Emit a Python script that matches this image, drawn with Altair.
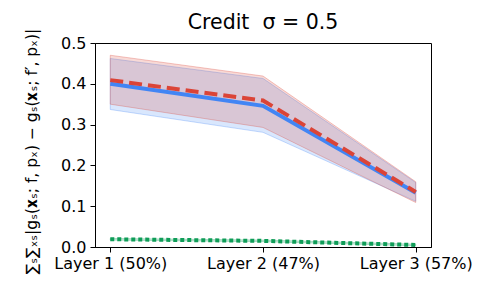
import altair as alt
import pandas as pd

layers = ["Layer 1 (50%)", "Layer 2 (47%)", "Layer 3 (57%)"]
blue_mean = [0.400, 0.346, 0.133]
blue_lo = [0.337, 0.281, 0.112]
blue_hi = [0.462, 0.413, 0.158]
red_mean = [0.409, 0.359, 0.135]
red_lo = [0.350, 0.293, 0.109]
red_hi = [0.470, 0.419, 0.160]
green_mean = [0.019, 0.015, 0.005]
green_lo = [0.017, 0.013, 0.003]
green_hi = [0.021, 0.017, 0.007]

BLUE = "#4285F4"
RED = "#DB4437"
GREEN = "#0F9D58"

def frame(mean, lo, hi):
    return pd.DataFrame({"layer": layers, "mean": mean, "lo": lo, "hi": hi})

xenc = alt.X("layer:N", sort=layers, scale=alt.Scale(type="point", padding=0.1),
             axis=alt.Axis(title=None, labelAngle=0, labelFontSize=16, labelColor="black",
                           labelFont="DejaVu Sans", tickSize=5, tickColor="black",
                           domainColor="black", labelPadding=3))
yenc = alt.Y("mean:Q", scale=alt.Scale(domain=[0, 0.5], nice=False),
             axis=alt.Axis(values=[0, 0.1, 0.2, 0.3, 0.4, 0.5], format=".1f",
                           title="∑ₛ∑ₓₛ|gₛ(𝐱ₛ; f, pₓ) − gₛ(𝐱ₛ; f′, pₓ)|",
                           titleFontSize=15.5, titleFont="DejaVu Sans", titleFontWeight="normal",
                           titleColor="black", titleX=-64, titleY=108, titleAngle=-90,
                           titleAlign="center", titleBaseline="middle",
                           labelFontSize=16, labelColor="black", labelFont="DejaVu Sans",
                           tickSize=5, tickColor="black", domainColor="black",
                           labelPadding=4, grid=False))

def band(df, color, op=0.2):
    return alt.Chart(df).mark_area(color=color, fillOpacity=op, stroke=color,
                                   strokeOpacity=0.3, strokeWidth=1).encode(
        x=xenc, y=alt.Y("lo:Q", scale=alt.Scale(domain=[0, 0.5], nice=False)), y2="hi:Q")

def line(df, color, dash=None, width=4):
    kw = dict(color=color, strokeWidth=width)
    if dash:
        kw["strokeDash"] = dash
    return alt.Chart(df).mark_line(**kw).encode(x=xenc, y=yenc)

db = frame(blue_mean, blue_lo, blue_hi)
dr = frame(red_mean, red_lo, red_hi)
dg = frame(green_mean, green_lo, green_hi)

chart = alt.layer(
    band(db, BLUE), band(dr, RED), band(dg, GREEN),
    line(db, BLUE), line(dr, RED, [13, 6]), line(dg, GREEN, [4, 3], 4),
).properties(
    width=336, height=204,
    autosize=alt.AutoSizeParams(type="none"),
    padding={"left": 87, "top": 35, "right": 49, "bottom": 38},
    title=alt.TitleParams("Credit\u00a0\u00a0σ = 0.5", fontSize=20.5, font="DejaVu Sans",
                          fontWeight="normal", color="black", anchor="middle", offset=4,
                          dy=9),
).configure_view(stroke="black", strokeWidth=1)

chart.save("out.html", embed_options={"renderer": "svg", "actions": False})
